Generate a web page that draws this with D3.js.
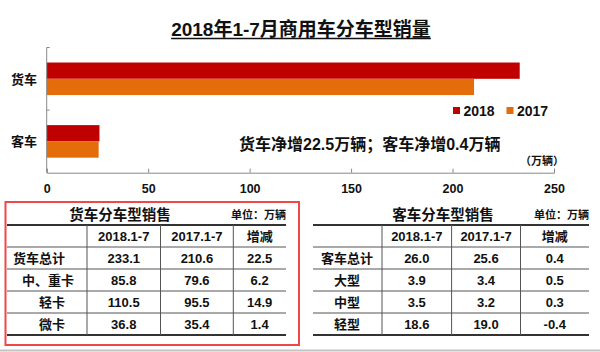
<!DOCTYPE html>
<html>
<head>
<meta charset="utf-8">
<script src="https://cdn.jsdelivr.net/npm/d3@7"></script>
<style>
  body { margin: 0; background: #fff; }
  svg text { font-family: "Liberation Sans", Arial, "Noto Sans CJK SC", sans-serif; fill: #111; }
</style>
</head>
<body>
<script>
// chart data
var categories = ["货车", "客车"];
var years = ["2018", "2017"];
var sales2018 = [233.1, 26.0];
var sales2017 = [210.6, 25.6];
var xTicks = [0, 50, 100, 150, 200, 250];

// table data
var tableHeaders = ["", "2018.1-7", "2017.1-7", "增减"];
var truckRows = ["货车总计", "中、重卡", "轻卡", "微卡"];
var truck2018 = [233.1, 85.8, 110.5, 36.8];
var truck2017 = [210.6, 79.6, 95.5, 35.4];
var truckDiff = [22.5, 6.2, 14.9, 1.4];
var busRows = ["客车总计", "大型", "中型", "轻型"];
var bus2018 = [26.0, 3.9, 3.5, 18.6];
var bus2017 = [25.6, 3.4, 3.2, 19.0];
var busDiff = [0.4, 0.5, 0.3, -0.4];

var width = 600, height = 352;
var colors = ["#C00000", "#E46C0A"];
var svg = d3.select("body").append("svg")
    .attr("width", width)
    .attr("height", height);

// title with underline
var title = svg.append("text")
    .attr("x", 301).attr("y", 36)
    .attr("text-anchor", "middle")
    .style("font-size", "19px").style("font-weight", "bold")
    .text("2018年1-7月商用车分车型销量");
var tw = title.node().getComputedTextLength();
svg.append("line")
    .attr("x1", 301 - tw / 2).attr("x2", 301 + tw / 2)
    .attr("y1", 38.5).attr("y2", 38.5)
    .attr("stroke", "#111").attr("stroke-width", 1.3);

// scales
var x = d3.scaleLinear().domain([0, 250]).range([46.7, 554]);
var y = d3.scaleBand().domain(categories).range([47.5, 172.7]);
var groupH = y.bandwidth() * 0.52;
var sub = d3.scaleBand().domain(years).range([0, groupH]);

var series = years.map(function (yr, i) {
    return categories.map(function (c, j) {
        return { cat: c, year: yr, value: (i === 0 ? sales2018 : sales2017)[j], color: colors[i] };
    });
});

series.forEach(function (s) {
    svg.append("g").selectAll("rect")
        .data(s)
        .join("rect")
        .attr("x", x(0))
        .attr("y", function (d) { return y(d.cat) + (y.bandwidth() - groupH) / 2 + sub(d.year); })
        .attr("width", function (d) { return x(d.value) - x(0); })
        .attr("height", sub.bandwidth())
        .attr("fill", function (d) { return d.color; });
});

// axes
var xAxis = svg.append("g")
    .attr("transform", "translate(0," + 172.7 + ")")
    .call(d3.axisBottom(x).tickValues(xTicks).tickSize(-4).tickPadding(11));
xAxis.select(".domain").attr("stroke", "#888");
xAxis.selectAll(".tick line").attr("stroke", "#888");
xAxis.selectAll(".tick text")
    .style("font-size", "12.5px").style("font-weight", "bold")
    .style("font-family", "Liberation Sans, Arial, sans-serif").attr("fill", "#111");

svg.append("line")
    .attr("x1", x(0)).attr("x2", x(0))
    .attr("y1", 47.5).attr("y2", 172.7)
    .attr("stroke", "#888");
svg.selectAll(".ytick")
    .data([47.5, y(categories[1])])
    .join("line")
    .attr("x1", x(0)).attr("x2", x(0) + 3)
    .attr("y1", function (d) { return d; }).attr("y2", function (d) { return d; })
    .attr("stroke", "#888");

svg.selectAll(".catlabel")
    .data(categories)
    .join("text")
    .attr("x", 37)
    .attr("y", function (d) { return y(d) + y.bandwidth() / 2 + 5; })
    .attr("text-anchor", "end")
    .style("font-size", "13px").style("font-weight", "bold")
    .style("font-family", "Noto Sans CJK SC, sans-serif")
    .text(function (d) { return d; });

// legend
var legend = svg.append("g").selectAll("g")
    .data(years)
    .join("g")
    .attr("transform", function (d, i) { return "translate(" + (453 + i * 53.5) + ",0)"; });
legend.append("rect")
    .attr("x", 0).attr("y", 107).attr("width", 7).attr("height", 7)
    .attr("fill", function (d, i) { return colors[i]; });
legend.append("text")
    .attr("x", 10.5).attr("y", 115.5)
    .style("font-size", "14px").style("font-weight", "bold")
    .text(function (d) { return d; });

// annotations
svg.append("text")
    .attr("x", 239).attr("y", 150)
    .style("font-size", "16px").style("font-weight", "bold")
    .text("货车净增22.5万辆；客车净增0.4万辆");
svg.append("text")
    .attr("x", 564).attr("y", 165)
    .attr("text-anchor", "end")
    .style("font-size", "11px").style("font-weight", "bold")
    .text("（万辆）");

// tables
var fmt = function (v) { return v.toFixed(1); };
var rowY = d3.scaleBand().domain(d3.range(5)).range([225, 335]);

function drawTable(opts) {
    var g = svg.append("g");
    var edges = opts.edges;
    var left = edges[0], right = edges[edges.length - 1];

    g.append("text")
        .attr("x", opts.titleX).attr("y", 220)
        .attr("text-anchor", "middle")
        .style("font-size", "14.5px").style("font-weight", "bold")
        .style("font-family", "Noto Sans CJK SC, sans-serif")
        .text(opts.title);
    g.append("text")
        .attr("x", right).attr("y", 219)
        .attr("text-anchor", "end")
        .style("font-size", "11px").style("font-weight", "bold")
        .style("font-family", "Noto Sans CJK SC, sans-serif")
        .text("单位：万辆");

    // horizontal rules
    g.selectAll(".hline")
        .data(d3.range(6))
        .join("line")
        .attr("x1", left).attr("x2", right)
        .attr("y1", function (i) { return i < 5 ? rowY(i) : rowY(4) + rowY.bandwidth(); })
        .attr("y2", function (i) { return i < 5 ? rowY(i) : rowY(4) + rowY.bandwidth(); })
        .attr("stroke", function (i) { return (i === 0 || i === 5) ? "#333" : "#555"; })
        .attr("stroke-width", function (i) { return (i === 0 || i === 5) ? 2 : 1; });
    // vertical rules
    g.selectAll(".vline")
        .data(edges.slice(1, -1))
        .join("line")
        .attr("x1", function (d) { return d; }).attr("x2", function (d) { return d; })
        .attr("y1", rowY(0)).attr("y2", rowY(4) + rowY.bandwidth())
        .attr("stroke", "#555").attr("stroke-width", 1);

    var centers = d3.range(4).map(function (i) { return (edges[i] + edges[i + 1]) / 2; });

    // header
    g.selectAll(".head")
        .data(tableHeaders)
        .join("text")
        .attr("x", function (d, i) { return centers[i]; })
        .attr("y", rowY(0) + rowY.bandwidth() / 2 + 5)
        .attr("text-anchor", "middle")
        .style("font-size", "13px").style("font-weight", "bold")
        .text(function (d) { return d; });

    // rows
    opts.rows.forEach(function (name, r) {
        var cy = rowY(r + 1) + rowY.bandwidth() / 2 + 5;
        g.append("text")
            .attr("x", opts.labelX(r))
            .attr("y", cy)
            .attr("text-anchor", opts.labelAnchor(r))
            .style("font-size", "13px").style("font-weight", "bold")
            .style("font-family", "Noto Sans CJK SC, sans-serif")
            .text(name);
        [opts.v2018[r], opts.v2017[r], opts.diff[r]].forEach(function (v, c) {
            g.append("text")
                .attr("x", centers[c + 1])
                .attr("y", cy)
                .attr("text-anchor", "middle")
                .style("font-size", "13px").style("font-weight", "bold")
                .text(fmt(v));
        });
    });
}

var truckIndent = [0, 9, 26, 26];
drawTable({
    title: "货车分车型销售", titleX: 120,
    edges: [7, 87, 160.5, 233.3, 286],
    rows: truckRows, v2018: truck2018, v2017: truck2017, diff: truckDiff,
    labelX: function (r) { return 13 + truckIndent[r]; },
    labelAnchor: function () { return "start"; }
});
drawTable({
    title: "客车分车型销售", titleX: 443,
    edges: [313, 382, 451.6, 520.5, 589],
    rows: busRows, v2018: bus2018, v2017: bus2017, diff: busDiff,
    labelX: function () { return 347; },
    labelAnchor: function () { return "middle"; }
});

// red frame around truck table
svg.append("rect")
    .attr("x", 5.5).attr("y", 202)
    .attr("width", 293.5).attr("height", 143)
    .attr("fill", "none")
    .attr("stroke", "#F04848").attr("stroke-width", 2);

// bottom grey rule
svg.append("line")
    .attr("x1", 0).attr("x2", width)
    .attr("y1", 350.5).attr("y2", 350.5)
    .attr("stroke", "#C4C4C4").attr("stroke-width", 2);
</script>
</body>
</html>
